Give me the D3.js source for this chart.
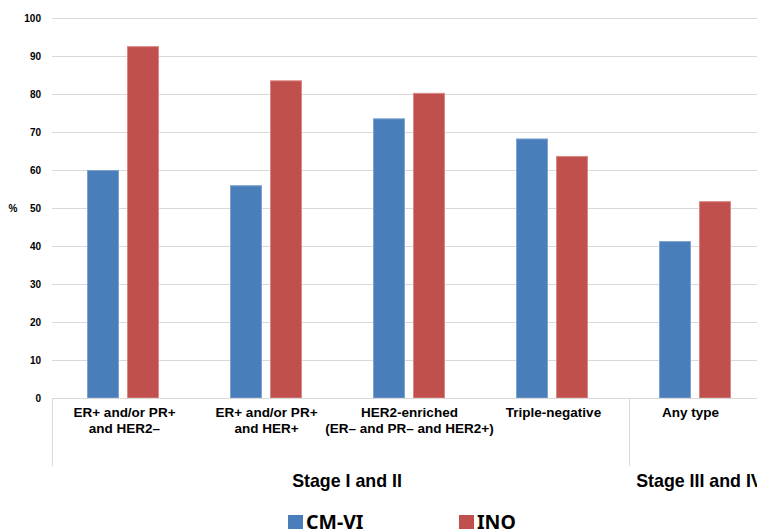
<!DOCTYPE html>
<html>
<head>
<meta charset="utf-8">
<script src="https://cdn.jsdelivr.net/npm/d3@7/dist/d3.min.js"></script>
<style>
  html, body { margin: 0; padding: 0; background: #fff; overflow: hidden; }
  svg { display: block; }
</style>
</head>
<body>
<svg id="chart" width="757" height="532"></svg>
<script>
const categories = ["ER+ and/or PR+|and HER2–", "ER+ and/or PR+|and HER+", "HER2-enriched|(ER– and PR– and HER2+)", "Triple-negative", "Any type"];
const series = ["CM-VI", "INO"];
const cmviValues = [60, 56, 73.6, 68.3, 41.3];
const inoValues = [92.6, 83.6, 80.3, 63.7, 51.8];
const groupLabels = ["Stage I and II", "Stage III and IV"];
const groupSpans = [[0, 3], [4, 4]];
const yTicks = [0, 10, 20, 30, 40, 50, 60, 70, 80, 90, 100];
const colors = {"CM-VI": "#4a7ebb", "INO": "#c0504d"};
const strokes = {"CM-VI": "#7ea3d1", "INO": "#d98886"};

(function () {
const svg = d3.select("#chart");
const plotLeft = 52, step = 143, plotTop = 18, plotBottom = 398;
const labelFont = "'Liberation Sans', Arial, sans-serif";

const x = d3.scaleBand().domain(categories).range([plotLeft, plotLeft + step * categories.length]).padding(0);
const xs = d3.scaleBand().domain(series).range([35, 107]).paddingInner(0.2).paddingOuter(0);
const y = d3.scaleLinear().domain([0, 100]).range([plotBottom, plotTop]);

// gridlines
svg.append("g").selectAll("line").data(yTicks.filter(t => t > 0)).join("line")
  .attr("x1", plotLeft).attr("x2", 757)
  .attr("y1", d => Math.round(y(d)) + 0.5).attr("y2", d => Math.round(y(d)) + 0.5)
  .attr("stroke", "#d9d9d9").attr("stroke-width", 1);

// y axis labels
const yAxis = d3.axisLeft(y).tickValues(yTicks).tickSize(0).tickPadding(0);
const gy = svg.append("g").attr("transform", `translate(${plotLeft - 11},0)`).call(yAxis);
gy.select(".domain").remove();
gy.selectAll("text").attr("font-family", labelFont).attr("font-weight", "bold")
  .attr("font-size", 10).attr("fill", "#000").attr("dy", "0.35em");

svg.append("text").attr("x", 13).attr("y", y(50)).attr("dy", "0.35em")
  .attr("text-anchor", "middle").attr("font-family", labelFont).attr("font-weight", "bold")
  .attr("font-size", 10).text("%");

// bars
const rows = categories.map((c, i) => ({cat: c, vals: [
  {s: "CM-VI", v: cmviValues[i]}, {s: "INO", v: inoValues[i]}]}));
const gBars = svg.append("g");
rows.forEach(r => {
  gBars.selectAll(null).data(r.vals).join("rect")
    .attr("x", d => x(r.cat) + xs(d.s) + 0.5)
    .attr("y", d => y(d.v) + 0.5)
    .attr("width", xs.bandwidth() - 1)
    .attr("height", d => y(0) - y(d.v) - 0.5)
    .attr("fill", d => colors[d.s])
    .attr("stroke", d => strokes[d.s]).attr("stroke-width", 1);
});

// baseline
svg.append("line").attr("x1", plotLeft).attr("x2", 757).attr("y1", plotBottom + 0.5).attr("y2", plotBottom + 0.5)
  .attr("stroke", "#d9d9d9").attr("stroke-width", 1);

// separators
const sepX = [plotLeft, x(categories[4]) + 5];
svg.append("g").selectAll("line").data(sepX).join("line")
  .attr("x1", d => Math.round(d) + 0.5).attr("x2", d => Math.round(d) + 0.5)
  .attr("y1", plotBottom).attr("y2", 466)
  .attr("stroke", "#d9d9d9").attr("stroke-width", 1);

// category labels
const catOffsets = [1, 0, 0, 1, -5];
categories.forEach((c, i) => {
  const lines = c.split("|");
  const t = svg.append("text").attr("text-anchor", "middle")
    .attr("font-family", labelFont).attr("font-weight", "bold").attr("font-size", 13.5).attr("fill", "#000");
  lines.forEach((ln, j) => {
    t.append("tspan").attr("x", x(c) + x.bandwidth() / 2 + catOffsets[i]).attr("y", 417 + j * 16).text(ln);
  });
});

// group labels
const groupOffsets = [9, 4];
groupLabels.forEach((g, i) => {
  const a = x(categories[groupSpans[i][0]]);
  const b = x(categories[groupSpans[i][1]]) + x.bandwidth();
  svg.append("text").attr("x", (a + b) / 2 + groupOffsets[i]).attr("y", 487)
    .attr("text-anchor", "middle").attr("font-family", labelFont).attr("font-weight", "bold")
    .attr("font-size", 17.8).attr("fill", "#000").text(g);
});

// legend
const legX = [288, 459];
series.forEach((s, i) => {
  svg.append("rect").attr("x", legX[i]).attr("y", 515).attr("width", 15).attr("height", 14).attr("fill", colors[s]);
  svg.append("text").attr("x", legX[i] + 18).attr("y", 528.5)
    .attr("font-family", "'Noto Sans', sans-serif").attr("font-weight", "bold")
    .attr("font-size", 19.5).attr("fill", "#000").text(s);
});
})();
</script>
</body>
</html>
